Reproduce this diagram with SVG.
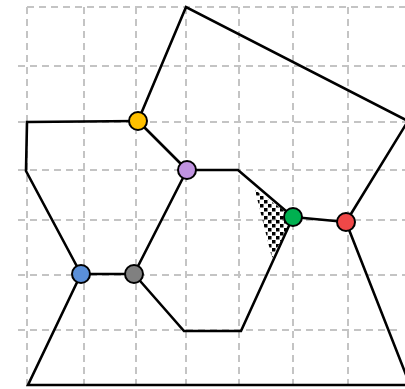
<svg xmlns="http://www.w3.org/2000/svg" width="405" height="389" viewBox="0 0 405 389">
<style>
.grid line{stroke:#c4c4c4;stroke-width:2;stroke-dasharray:7,5}
.edge{fill:none;stroke:#000;stroke-width:2.6;stroke-linejoin:miter;stroke-linecap:round}
.node{stroke:#000;stroke-width:2}
</style>
<defs>
<pattern id="dots" width="8" height="8" patternUnits="userSpaceOnUse">
<rect x="0" y="0" width="3.5" height="3.5" fill="#000"/>
<rect x="4" y="4" width="3.5" height="3.5" fill="#000"/>
</pattern>
</defs>
<rect width="405" height="389" fill="#fff"/>
<g class="grid">
<line x1="27" y1="7" x2="405" y2="7"/>
<line x1="18" y1="66" x2="405" y2="66"/>
<line x1="18" y1="122" x2="405" y2="122"/>
<line x1="18" y1="170" x2="405" y2="170"/>
<line x1="18" y1="220" x2="405" y2="220"/>
<line x1="18" y1="275" x2="405" y2="275"/>
<line x1="18" y1="330" x2="402" y2="330"/>
<line x1="27" y1="7" x2="27" y2="389"/>
<line x1="84" y1="7" x2="84" y2="389"/>
<line x1="136" y1="7" x2="136" y2="389"/>
<line x1="186" y1="7" x2="186" y2="389"/>
<line x1="239" y1="7" x2="239" y2="389"/>
<line x1="293" y1="7" x2="293" y2="389"/>
<line x1="348" y1="7" x2="348" y2="389"/>
</g>
<polygon points="255,190 293,217 272,258" fill="url(#dots)"/>
<g id="connectors">
<polyline class="edge" points="138,121 186,7 408,121 346,222"/>
<polyline class="edge" points="346,222 410,385 28,385 81,274"/>
<polyline class="edge" points="81,274 26,171 27,122 138,121"/>
<line class="edge" x1="138" y1="121" x2="187" y2="170"/>
<polyline class="edge" points="187,170 238,170 293,217"/>
<line class="edge" x1="187" y1="170" x2="134" y2="274"/>
<line class="edge" x1="81" y1="274" x2="134" y2="274"/>
<polyline class="edge" points="134,274 184,331 241,331 293,217"/>
<line class="edge" x1="293" y1="217" x2="346" y2="222"/>
</g>
<g id="node-yellow"><circle class="node" cx="138" cy="121" r="9" fill="#ffc000"/></g>
<g id="node-purple"><circle class="node" cx="187" cy="170" r="9" fill="#c093e0"/></g>
<g id="node-blue"><circle class="node" cx="81" cy="274" r="9" fill="#5a8fd8"/></g>
<g id="node-gray"><circle class="node" cx="134" cy="274" r="9" fill="#808080"/></g>
<g id="node-green"><circle class="node" cx="293" cy="217" r="9" fill="#00b050"/></g>
<g id="node-red"><circle class="node" cx="346" cy="222" r="9" fill="#f04848"/></g>
</svg>
